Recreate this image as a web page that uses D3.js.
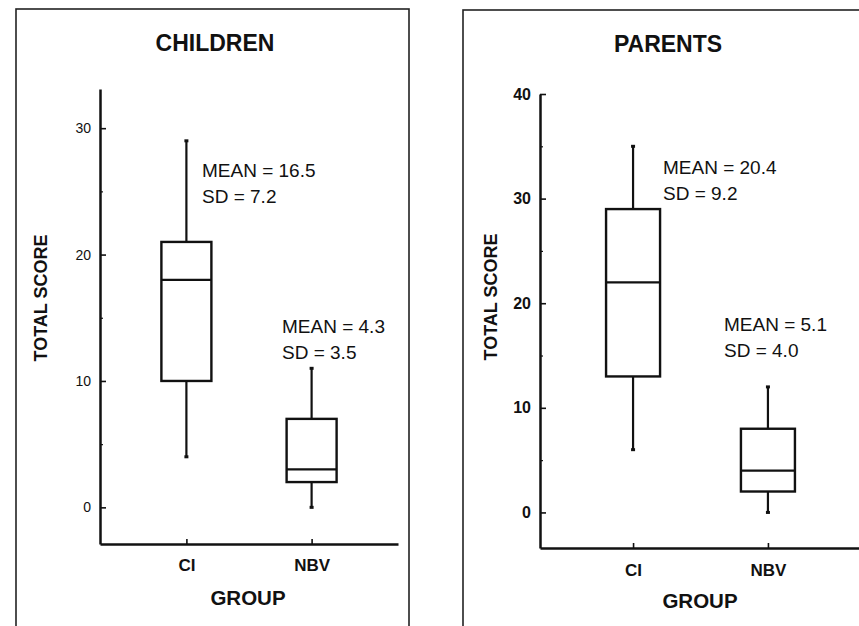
<!DOCTYPE html>
<html>
<head>
<meta charset="utf-8">
<script src="https://cdn.jsdelivr.net/npm/d3@7"></script>
<style>
  html, body { margin: 0; padding: 0; background: #fff; }
  svg { display: block; }
  text { font-family: "Liberation Sans", Arial, Helvetica, sans-serif; fill: #111; }
</style>
</head>
<body>
<svg id="chart" width="859" height="626"></svg>
<script>
// ---- data ----
const groups = ["CI", "NBV"];
const panelTitles = ["CHILDREN", "PARENTS"];

const childrenMin    = [4, 0];
const childrenQ1     = [10, 2];
const childrenMedian = [18, 3];
const childrenQ3     = [21, 7];
const childrenMax    = [29, 11];
const childrenMean   = ["16.5", "4.3"];
const childrenSD     = ["7.2", "3.5"];
const childrenTicks  = [0, 10, 20, 30];
const childrenMinorTicks = [5, 15, 25];

const parentsMin    = [6, 0];
const parentsQ1     = [13, 2];
const parentsMedian = [22, 4];
const parentsQ3     = [29, 8];
const parentsMax    = [35, 12];
const parentsMean   = ["20.4", "5.1"];
const parentsSD     = ["9.2", "4.0"];
const parentsTicks  = [0, 10, 20, 30, 40];
const parentsMinorTicks = [5, 15, 25, 35];

const yLabel = "TOTAL SCORE";
const xLabel = "GROUP";

// ---- layout ----
const svg = d3.select("#chart");

const panels = [
  {
    title: panelTitles[0],
    min: childrenMin, q1: childrenQ1, med: childrenMedian, q3: childrenQ3, max: childrenMax,
    mean: childrenMean, sd: childrenSD, ticks: childrenTicks, minor: childrenMinorTicks,
    border: {x: 16, y: 9, w: 393, h: 640},
    yDomain: [-2.9, 33.1], yRange: [544, 89],
    xRange: [100, 398], boxW: 50,
    titleX: 215, titleY: 51, titleSize: 23,
    tickFont: 14, tickWeight: "normal",
    yLabX: 47, yLabY: 298,
    groupX: 248, groupY: 605,
    textPos: [{x: 202, y: 177}, {x: 282, y: 333}],
    catBaselinePad: 15
  },
  {
    title: panelTitles[1],
    min: parentsMin, q1: parentsQ1, med: parentsMedian, q3: parentsQ3, max: parentsMax,
    mean: parentsMean, sd: parentsSD, ticks: parentsTicks, minor: parentsMinorTicks,
    border: {x: 463, y: 10, w: 420, h: 640},
    yDomain: [-3.4, 40], yRange: [548, 94],
    xRange: [540, 861], boxW: 54,
    titleX: 668, titleY: 52, titleSize: 23,
    tickFont: 16, tickWeight: "bold",
    yLabX: 497, yLabY: 297,
    groupX: 700, groupY: 608,
    textPos: [{x: 663, y: 174}, {x: 724, y: 331}],
    catBaselinePad: 16
  }
];

panels.forEach(p => {
  const g = svg.append("g");

  // panel frame
  g.append("rect")
    .attr("x", p.border.x).attr("y", p.border.y)
    .attr("width", p.border.w).attr("height", p.border.h)
    .attr("fill", "none").attr("stroke", "#222").attr("stroke-width", 1.6);

  const y = d3.scaleLinear().domain(p.yDomain).range(p.yRange);
  const x = d3.scalePoint().domain(groups).range(p.xRange).padding(0.69);

  // title
  g.append("text")
    .attr("x", p.titleX).attr("y", p.titleY)
    .attr("text-anchor", "middle")
    .style("font-size", p.titleSize + "px").style("font-weight", "bold")
    .text(p.title);

  // y axis (inward ticks)
  const yAxis = g.append("g")
    .attr("transform", `translate(${p.xRange[0]},0)`)
    .call(d3.axisLeft(y).tickValues(p.ticks).tickSize(-6).tickSizeOuter(0).tickPadding(9));
  yAxis.select(".domain").attr("stroke", "#111").attr("stroke-width", 2.5);
  yAxis.selectAll(".tick line").attr("stroke", "#111").attr("stroke-width", 1.6);
  yAxis.selectAll(".tick text")
    .style("font-size", p.tickFont + "px").style("font-weight", p.tickWeight)
    .attr("fill", "#111")
    .style("font-family", '"Liberation Sans", Arial, sans-serif');

  // minor ticks
  const yMinor = g.append("g")
    .attr("transform", `translate(${p.xRange[0]},0)`)
    .call(d3.axisLeft(y).tickValues(p.minor).tickSize(-3).tickFormat(""));
  yMinor.select(".domain").remove();
  yMinor.selectAll(".tick line").attr("stroke", "#111").attr("stroke-width", 1.2);

  // x axis
  const x0 = y(p.yDomain[0]);
  const xAxis = g.append("g")
    .attr("transform", `translate(0,${x0})`)
    .call(d3.axisBottom(x).tickSize(-5).tickSizeOuter(0).tickPadding(p.catBaselinePad));
  xAxis.select(".domain").attr("stroke", "#111").attr("stroke-width", 2.5);
  xAxis.selectAll(".tick line").attr("stroke", "#111").attr("stroke-width", 1.6);
  xAxis.selectAll(".tick text")
    .style("font-size", "17px").style("font-weight", "bold").attr("fill", "#111")
    .style("font-family", '"Liberation Sans", Arial, sans-serif');

  // axis titles
  g.append("text")
    .attr("transform", `translate(${p.yLabX},${p.yLabY}) rotate(-90)`)
    .attr("text-anchor", "middle")
    .style("font-size", "18px").style("font-weight", "bold")
    .text(yLabel);

  g.append("text")
    .attr("x", p.groupX).attr("y", p.groupY)
    .attr("text-anchor", "middle")
    .style("font-size", "20.5px").style("font-weight", "bold")
    .text(xLabel);

  // boxes
  groups.forEach((grp, i) => {
    const cx = x(grp);
    const bw = p.boxW;
    // whiskers
    g.append("line")
      .attr("x1", cx).attr("x2", cx)
      .attr("y1", y(p.max[i])).attr("y2", y(p.q3[i]))
      .attr("stroke", "#111").attr("stroke-width", 2.2);
    g.append("line")
      .attr("x1", cx).attr("x2", cx)
      .attr("y1", y(p.q1[i])).attr("y2", y(p.min[i]))
      .attr("stroke", "#111").attr("stroke-width", 2.2);
    // whisker end dots
    [p.max[i], p.min[i]].forEach(v => {
      g.append("rect")
        .attr("x", cx - 2).attr("y", y(v) - 1.5)
        .attr("width", 4).attr("height", 3)
        .attr("fill", "#111");
    });
    // box
    g.append("rect")
      .attr("x", cx - bw / 2).attr("y", y(p.q3[i]))
      .attr("width", bw).attr("height", y(p.q1[i]) - y(p.q3[i]))
      .attr("fill", "#fff").attr("stroke", "#111").attr("stroke-width", 2.4);
    // median
    g.append("line")
      .attr("x1", cx - bw / 2).attr("x2", cx + bw / 2)
      .attr("y1", y(p.med[i])).attr("y2", y(p.med[i]))
      .attr("stroke", "#111").attr("stroke-width", 2.2);

    // annotation
    const tp = p.textPos[i];
    g.append("text")
      .attr("x", tp.x).attr("y", tp.y)
      .style("font-size", "19px")
      .text("MEAN = " + p.mean[i]);
    g.append("text")
      .attr("x", tp.x).attr("y", tp.y + 26)
      .style("font-size", "19px")
      .text("SD = " + p.sd[i]);
  });
});
</script>
</body>
</html>
